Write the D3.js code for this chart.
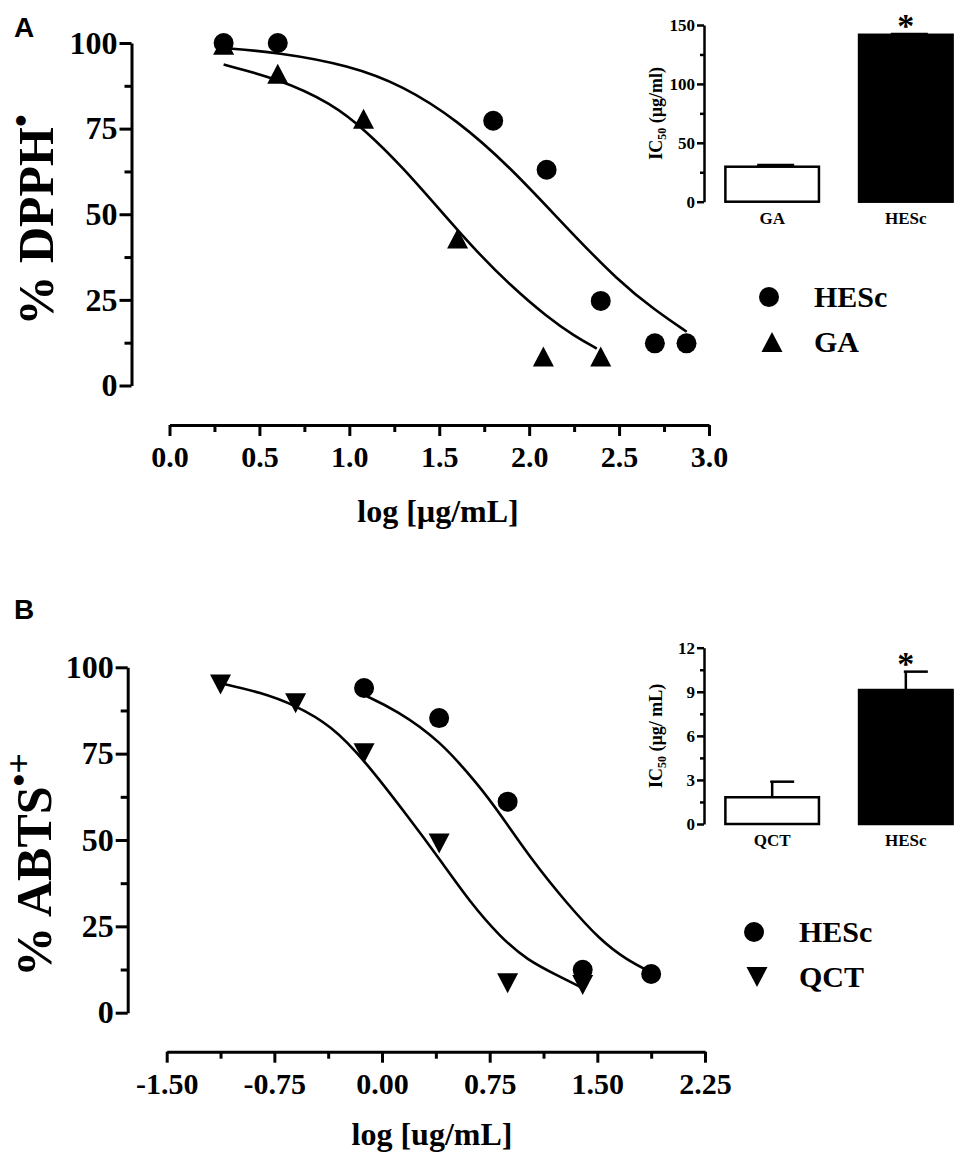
<!DOCTYPE html>
<html>
<head>
<meta charset="utf-8">
<script src="https://cdnjs.cloudflare.com/ajax/libs/d3/7.8.5/d3.min.js"></script>
<style>
  body { margin: 0; background: #fff; }
  text { font-family: "Liberation Serif", "Times New Roman", serif; font-weight: bold; fill: #000; }
</style>
</head>
<body>
<script>
// ---- panel A : DPPH ----
var hescA_x = [0.301, 0.602, 1.8, 2.097, 2.398, 2.699, 2.875];
var hescA_y = [100, 100, 77.3, 63, 24.7, 12.3, 12.3];
var gaA_x = [0.301, 0.602, 1.079, 1.602, 2.079, 2.398];
var gaA_y = [99.5, 91, 77.9, 42.9, 8.5, 8.5];
// fitted curves
var hescFitA_x = [0.301, 0.6, 1.0, 1.3, 1.6, 1.9, 2.2, 2.5, 2.7, 2.876];
var hescFitA_y = [98.5, 97.3, 93.5, 87.5, 77.5, 63.5, 46.5, 30.3, 22, 15.7];
var gaFitA_x = [0.301, 0.6, 0.9, 1.1, 1.3, 1.5, 1.7, 1.9, 2.1, 2.25, 2.376];
var gaFitA_y = [93.7, 89.6, 82.5, 74, 63.5, 51.5, 39.5, 29, 20, 14.5, 10.8];
var xTicksA = [0, 0.5, 1, 1.5, 2, 2.5, 3];
var xMinorA = [0.25, 0.75, 1.25, 1.75, 2.25, 2.75];

// ---- panel B : ABTS ----
var hescB_x = [-0.125, 0.398, 0.875, 1.398, 1.875];
var hescB_y = [94, 85.3, 61.1, 12.4, 11.2];
var qctB_x = [-1.125, -0.602, -0.125, 0.398, 0.875, 1.398];
var qctB_y = [95, 89.6, 75.1, 49, 8.5, 8];
var hescFitB_x = [-0.125, 0.1, 0.4, 0.68, 0.82, 1.054, 1.287, 1.519, 1.705, 1.87];
var hescFitB_y = [92, 87.6, 79, 65.5, 57.7, 43.6, 31.7, 21, 15.3, 11.8];
var qctFitB_x = [-1.125, -0.85, -0.606, -0.35, -0.13, 0.195, 0.4, 0.613, 0.822, 1.008, 1.24, 1.38];
var qctFitB_y = [95.4, 92.8, 89.1, 83, 73.5, 56, 44.5, 32, 22, 15.3, 10.4, 7.5];
var xTicksB = [-1.5, -0.75, 0, 0.75, 1.5, 2.25];
var xMinorB = [-1.125, -0.375, 0.375, 1.125, 1.875];

var yTicks = [0, 25, 50, 75, 100];
var yMinor = [12.5, 37.5, 62.5, 87.5];

// ---- insets : IC50 ----
var insetA_cats = ["GA", "HESc"];
var insetA_vals = [29.7, 141.7];
var insetA_err = [1.5, 0.6];
var insetA_ticks = [0, 50, 100, 150];
var insetA_minor = [25, 75, 125];

var insetB_cats = ["QCT", "HESc"];
var insetB_vals = [1.82, 9.12];
var insetB_err = [1.06, 1.25];
var insetB_ticks = [0, 3, 6, 9, 12];
var insetB_minor = [1.5, 4.5, 7.5, 10.5];

var width = 960, height = 1159;
var svg = d3.select("body").append("svg")
    .attr("width", width)
    .attr("height", height);
svg.append("rect").attr("width", width).attr("height", height).attr("fill", "#fff");

function styleAxis(g, fontSize, sw) {
    g.attr("font-family", null).attr("font-size", null);
    g.selectAll("path.domain").attr("stroke", "#000").attr("stroke-width", sw);
    g.selectAll(".tick line").attr("stroke", "#000").attr("stroke-width", sw);
    g.selectAll(".tick text").style("font-size", fontSize + "px");
}

function yAxis(scale, x, major, minor, majLen, minLen, fontSize, sw, fmt) {
    var g = svg.append("g").attr("transform", "translate(" + x + ",0)");
    g.call(d3.axisLeft(scale).tickValues(major).tickSize(majLen).tickSizeOuter(0)
        .tickPadding(2).tickFormat(fmt));
    styleAxis(g, fontSize, sw);
    var m = svg.append("g").attr("transform", "translate(" + x + ",0)");
    m.call(d3.axisLeft(scale).tickValues(minor).tickSize(minLen).tickSizeOuter(0).tickFormat(""));
    styleAxis(m, fontSize, sw);
    m.select("path.domain").remove();
}

function xAxis(scale, y, major, minor, fmt) {
    var g = svg.append("g").attr("transform", "translate(0," + y + ")");
    g.call(d3.axisBottom(scale).tickValues(major).tickSize(11).tickSizeOuter(0)
        .tickPadding(10).tickFormat(fmt));
    styleAxis(g, 30, 3);
    var m = svg.append("g").attr("transform", "translate(0," + y + ")");
    m.call(d3.axisBottom(scale).tickValues(minor).tickSize(7).tickSizeOuter(0).tickFormat(""));
    styleAxis(m, 30, 3);
    m.select("path.domain").remove();
}

var line = function(xs, ys, x, y) {
    return d3.line().curve(d3.curveBasis)
        .x(function(d, i) { return x(xs[i]); })
        .y(function(d, i) { return y(ys[i]); })(xs);
};

var triUp = "M0,-10L10.5,10L-10.5,10Z";
var triDown = "M-10.5,-10L10.5,-10L0,10Z";

function drawCurve(xs, ys, x, y) {
    svg.append("path").attr("d", line(xs, ys, x, y))
        .attr("fill", "none").attr("stroke", "#000").attr("stroke-width", 2.6);
}
function drawTriangles(xs, ys, x, y, shape) {
    svg.append("g").selectAll("path").data(xs).enter().append("path")
        .attr("d", shape)
        .attr("transform", function(d, i) { return "translate(" + x(d) + "," + y(ys[i]) + ")"; })
        .attr("fill", "#000");
}
function drawCircles(xs, ys, x, y) {
    svg.append("g").selectAll("circle").data(xs).enter().append("circle")
        .attr("cx", function(d) { return x(d); })
        .attr("cy", function(d, i) { return y(ys[i]); })
        .attr("r", 10).attr("fill", "#000");
}

function yTitle(x, y, main, sup) {
    var t = svg.append("text").attr("transform", "translate(" + x + "," + y + ") rotate(-90)")
        .attr("text-anchor", "middle").style("font-size", "50px");
    t.append("tspan").text(main);
    t.append("tspan").attr("dy", -20).style("font-size", "36px").text(sup);
}

function legend(x, y, labels, shapes) {
    labels.forEach(function(lab, i) {
        var cy = y + i * 45;
        if (shapes[i] === "circle") {
            svg.append("circle").attr("cx", x).attr("cy", cy).attr("r", 10).attr("fill", "#000");
        } else {
            svg.append("path").attr("d", shapes[i]).attr("transform", "translate(" + (x + 3) + "," + cy + ")");
        }
        svg.append("text").attr("x", x + 45).attr("y", cy + 10).style("font-size", "30px").text(lab);
    });
}

function inset(cats, vals, errs, ticks, minor, yRange, title, capL, capR) {
    var y = d3.scaleLinear().domain([ticks[0], ticks[ticks.length - 1]]).range(yRange);
    var x = d3.scaleBand().domain(cats).range([704, 974]).paddingInner(0.3).paddingOuter(0.16);
    yAxis(y, 704, ticks, minor, 7, 4, 17, 2.5, d3.format("d"));
    cats.forEach(function(c, i) {
        var cx = x(c) + x.bandwidth() / 2;
        svg.append("line").attr("x1", cx).attr("x2", cx)
            .attr("y1", y(vals[i])).attr("y2", y(vals[i] + errs[i]))
            .attr("stroke", "#000").attr("stroke-width", 2.5);
        svg.append("line").attr("x1", cx - capL).attr("x2", cx + capR)
            .attr("y1", y(vals[i] + errs[i])).attr("y2", y(vals[i] + errs[i]))
            .attr("stroke", "#000").attr("stroke-width", 2.5);
        svg.append("rect").attr("x", x(c)).attr("width", x.bandwidth())
            .attr("y", y(vals[i])).attr("height", y(0) - y(vals[i]))
            .attr("fill", i === 0 ? "#fff" : "#000")
            .attr("stroke", "#000").attr("stroke-width", 2.5);
        svg.append("text").attr("x", cx).attr("y", y(0) + 22)
            .attr("text-anchor", "middle").style("font-size", "17px").text(c);
    });
    var last = cats.length - 1;
    svg.append("text").attr("x", x(cats[last]) + x.bandwidth() / 2)
        .attr("y", y(vals[last] + errs[last]) + 3)
        .attr("text-anchor", "middle").style("font-size", "34px").text("*");
    var mid = (yRange[0] + yRange[1]) / 2;
    var t = svg.append("text").attr("transform", "translate(" + (704 - 42) + "," + mid + ") rotate(-90)")
        .attr("text-anchor", "middle").style("font-size", "18px");
    t.append("tspan").text("IC");
    t.append("tspan").attr("dy", 4).style("font-size", "12px").text("50");
    t.append("tspan").attr("dy", -4).text(title);
}

// ---- panel A ----
var xA = d3.scaleLinear().domain([0, 3]).range([169.5, 709]);
var yA = d3.scaleLinear().domain([0, 100]).range([385.5, 43]);
yAxis(yA, 131.5, yTicks, yMinor, 12, 7, 32, 3, d3.format("d"));
xAxis(xA, 425, xTicksA, xMinorA, function(d) { return d.toFixed(1); });
drawCurve(hescFitA_x, hescFitA_y, xA, yA);
drawCurve(gaFitA_x, gaFitA_y, xA, yA);
drawTriangles(gaA_x, gaA_y, xA, yA, triUp);
drawCircles(hescA_x, hescA_y, xA, yA);
yTitle(53, 220, "% DPPH", "\u2022");
svg.append("text").attr("x", 438).attr("y", 522).attr("text-anchor", "middle")
    .style("font-size", "32px").text("log [\u00b5g/mL]");
legend(769, 297, ["HESc", "GA"], ["circle", triUp]);
svg.append("text").attr("x", 14).attr("y", 37).style("font-family", "'Liberation Sans', Arial, sans-serif")
    .style("font-size", "28px").text("A");
inset(insetA_cats, insetA_vals, insetA_err, insetA_ticks, insetA_minor, [201.7, 25], " (\u00b5g/ml)", 15, 22);

// ---- panel B ----
var xB = d3.scaleLinear().domain([-1.5, 2.25]).range([166.7, 705]);
var yB = d3.scaleLinear().domain([0, 100]).range([1012.7, 667.3]);
yAxis(yB, 127.7, yTicks, yMinor, 12, 7, 32, 3, d3.format("d"));
xAxis(xB, 1051.7, xTicksB, xMinorB, function(d) { return d.toFixed(2); });
drawCurve(hescFitB_x, hescFitB_y, xB, yB);
drawCurve(qctFitB_x, qctFitB_y, xB, yB);
drawTriangles(qctB_x, qctB_y, xB, yB, triDown);
drawCircles(hescB_x, hescB_y, xB, yB);
yTitle(51, 865, "% ABTS", "\u2022+");
svg.append("text").attr("x", 432).attr("y", 1145).attr("text-anchor", "middle")
    .style("font-size", "32px").text("log [ug/mL]");
legend(754, 932, ["HESc", "QCT"], ["circle", triDown]);
svg.append("text").attr("x", 14).attr("y", 619).style("font-family", "'Liberation Sans', Arial, sans-serif")
    .style("font-size", "28px").text("B");
inset(insetB_cats, insetB_vals, insetB_err, insetB_ticks, insetB_minor, [824, 647.7], " (\u00b5g/ mL)", 2, 22);
</script>
</body>
</html>
